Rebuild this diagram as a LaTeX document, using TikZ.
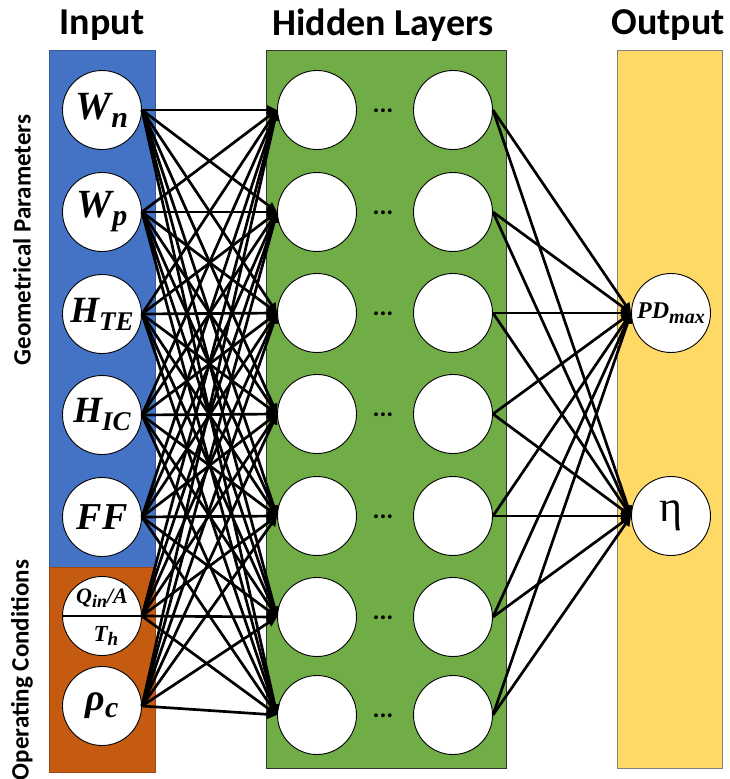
\documentclass[tikz,border=0pt]{standalone}
\usepackage{fontspec}
\setmainfont{Carlito}
\newfontfamily\etafont{Liberation Serif}
\newfontfamily\labelfont{Liberation Serif}
\usetikzlibrary{arrows.meta}
\definecolor{inblue}{HTML}{4472C4}
\definecolor{inorange}{HTML}{C55A11}
\definecolor{hidgreen}{HTML}{70AD47}
\definecolor{outyellow}{HTML}{FFD966}
\newcommand{\fsz}[1]{\fontsize{#1}{#1}\selectfont}
% letter with a lowered subscript: {letter}{subscript}{size}{drop}
\newcommand{\lsub}[4]{#1\raisebox{-#4}{\fsz{#3}#2}}
\tikzset{
  neuron/.style={circle,draw=black,fill=white,line width=0.9pt,minimum size=79pt,inner sep=0pt},
  varlabel/.style={font=\labelfont\bfseries\itshape\fsz{#1}},
  link/.style={line width=2.7pt,-{Triangle[length=10pt,width=9pt]}},
  title/.style={font=\bfseries\fsz{38}},
  sidelabel/.style={rotate=90,font=\bfseries\fsz{25}}
}
\begin{document}
\begin{tikzpicture}[x=1pt,y=-1pt]
		\useasboundingbox (0,0) rectangle (729,779);
		%layer boxes
		\draw[fill=inblue,draw=inblue!80!black,line width=0.8pt] (49,50) rectangle (155,567);
		\draw[fill=inorange,draw=inorange!80!black,line width=0.8pt] (49,567) rectangle (155,772);
		\draw[fill=hidgreen,draw=black!80,line width=0.9pt] (266,50) rectangle (506,768);
		\draw[fill=outyellow,draw=black!50,line width=0.8pt] (617,50) rectangle (722,768);
		%titles
		\node[title](tin) at (102,25) {Input};
		\node[title](thid) at (383,25) {Hidden Layers};
		\node[title](tout) at (668,25) {Output};
		\node[sidelabel](geo) at (22,240) {Geometrical Parameters};
		\node[sidelabel](opc) at (22,670) {Operating Conditions};
		%input layer
		\node[neuron,varlabel=40](i1) at (102,110) {\lsub{W}{n}{30}{8pt}};
		\node[neuron,varlabel=40](i2) at (102,212) {\lsub{W}{p}{30}{8pt}};
		\node[neuron,varlabel=37](i3) at (102,314) {\lsub{H}{TE}{27}{8pt}};
		\node[neuron,varlabel=37](i4) at (102,415) {\lsub{H}{IC}{27}{8pt}};
		\node[neuron,varlabel=38](i5) at (102,517) {FF};
		\node[neuron](i6) at (102,616) {};
		\node[neuron,varlabel=38](i7) at (102,706) {\lsub{ρ}{c}{30}{7pt}};
		\draw[line width=1.6pt] (i6.west) -- (i6.east);
		\node[varlabel=22](qa) at (102,598) {\lsub{Q}{in}{18}{4pt}/A};
		\node[varlabel=23](th) at (106,636) {\lsub{T}{h}{19}{4pt}};
		%hidden layers
		\foreach \y [count=\r] in {110,212,313,414,516,617,715} {
			\node[neuron](ha\r) at (317,\y) {};
			\node[neuron](hb\r) at (453,\y) {};
			\node[font=\bfseries\fsz{26},anchor=base](dots\r) at (383,\y+2) {...};
		}
		%output layer
		\node[neuron,varlabel=24](o1) at (671,313) {\lsub{PD}{max}{20}{5pt}};
		\node[neuron,font=\etafont\fsz{44}](o2) at (671,516) {η};
		%connections
		\foreach \i in {1,...,7}
			\foreach \j in {1,...,7}
				\draw[link] (i\i.east) -- (ha\j.west);
		\foreach \i in {1,...,7}
			\foreach \j in {1,2}
				\draw[link] (hb\i.east) -- (o\j.west);
\end{tikzpicture}
\end{document}
